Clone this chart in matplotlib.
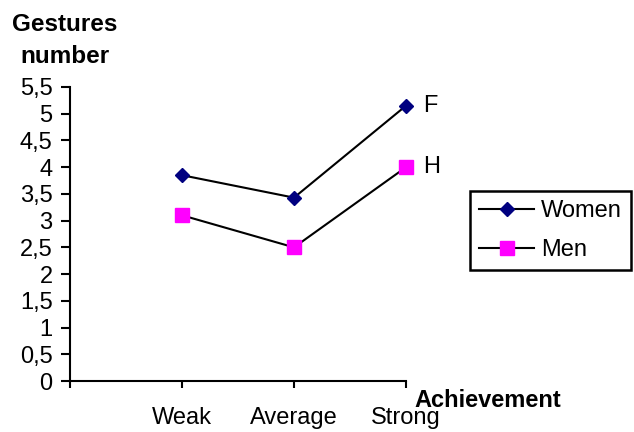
import matplotlib
matplotlib.use('Agg')
import matplotlib.pyplot as plt

categories = ['Weak', 'Average', 'Strong']
women = [3.85, 3.43, 5.15]
men = [3.1, 2.5, 4.0]
end_labels = ['F', 'H']
y_ticks = [0, 0.5, 1, 1.5, 2, 2.5, 3, 3.5, 4, 4.5, 5, 5.5]

plt.rcParams['font.family'] = ['Liberation Sans', 'DejaVu Sans']
plt.rcParams['font.size'] = 17

fig = plt.figure(figsize=(6.34, 4.32), dpi=100)
ax = fig.add_axes([70 / 634, 51 / 432, 336 / 634, 294 / 432])

x = [1, 2, 3]
ax.plot(x, women, color='black', linewidth=1.5, marker='D', markersize=7,
        markerfacecolor='#000080', markeredgecolor='#000080', label='Women', clip_on=False)
ax.plot(x, men, color='black', linewidth=1.5, marker='s', markersize=10.5,
        markerfacecolor='#FF00FF', markeredgecolor='#FF00FF', label='Men', clip_on=False)

for series, text in zip([women, men], end_labels):
    ax.annotate(text, xy=(3, series[-1]), xytext=(12, 0), textcoords='offset points',
                va='center', ha='left', annotation_clip=False)

ax.set_xlim(0, 3)
ax.set_ylim(0, 5.5)
ax.set_xticks([0, 1, 2, 3])
ax.set_xticklabels([''] + categories)
ax.set_yticks(y_ticks)
ax.set_yticklabels([('%g' % v).replace('.', ',') for v in y_ticks])

for side in ['top', 'right']:
    ax.spines[side].set_visible(False)
for side in ['left', 'bottom']:
    ax.spines[side].set_linewidth(1.5)
ax.tick_params(axis='y', direction='out', length=6.5, width=1.5, pad=6)
ax.tick_params(axis='x', direction='out', length=5, width=1.5, pad=14)
for spine in ax.spines.values():
    spine.set_clip_on(False)

fig.text(65 / 634, 1 - 31 / 432, 'Gestures', ha='center', va='baseline',
         fontweight='bold', fontsize=17.5)
fig.text(65 / 634, 1 - 63 / 432, 'number', ha='center', va='baseline',
         fontweight='bold', fontsize=17.5)
fig.text(414 / 634, 1 - 407 / 432, 'Achievement', ha='left', va='baseline',
         fontweight='bold', fontsize=17)

leg = fig.legend(loc='upper left', bbox_to_anchor=(470 / 634, 1 - 191 / 432),
                 bbox_transform=fig.transFigure, fancybox=False, framealpha=1,
                 edgecolor='black', handlelength=2.3, handletextpad=0.3,
                 borderpad=0.4, labelspacing=0.7, borderaxespad=0)
leg.get_frame().set_linewidth(1.8)

fig.savefig('out.png', dpi=100)
